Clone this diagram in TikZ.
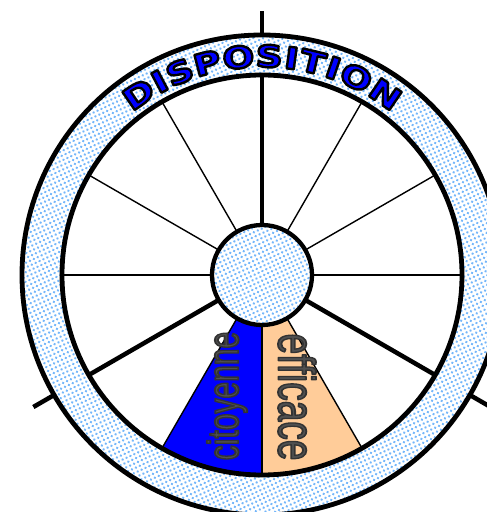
\documentclass[tikz,border=0pt]{standalone}
\usepackage{fontspec}
\setmainfont{Liberation Sans}
\newfontfamily\titlefont[FakeStretch=1.25]{DejaVu Sans Bold}
\newfontfamily\wordfont{Liberation Sans}
\usepackage{graphicx}
\usepackage{xcolor}
\usetikzlibrary{patterns.meta}

\definecolor{wheelblue}{RGB}{0,0,255}
\definecolor{peach}{RGB}{255,204,153}
\definecolor{dotblue}{RGB}{115,182,250}
\definecolor{inkgray}{RGB}{80,80,80}

% glyphs filled in the current colour and stroked round in a given grey
\newcommand{\outlined}[3]{\special{pdf:literal direct #1 G #2 w 1 j 2 Tr}#3\special{pdf:literal direct 0 Tr}}

\begin{document}
\begin{tikzpicture}[x=1pt, y=1pt,
    thinspoke/.style={line width=1.4pt},
    thickspoke/.style={line width=4.5pt},
    rim/.style={line width=4.8pt},
    dotfill/.style={pattern={Dots[radius=1.35pt, distance=4.3pt, angle=25]},
                    pattern color=dotblue},
    letter/.style={inner sep=0pt, text=wheelblue,
                   font=\titlefont\fontsize{30}{30}\selectfont},
    word/.style={inner sep=0pt, text=inkgray}]

    \useasboundingbox (-262,-237) rectangle (225,275);
    \clip (-262,-237) rectangle (225,275);

    % the two coloured sectors
    \fill[wheelblue] (240:50) -- (240:200) arc[start angle=240, end angle=270, radius=200]
      -- (270:50) arc[start angle=270, end angle=240, radius=50] -- cycle;
    \fill[peach] (270:50) -- (270:200) arc[start angle=270, end angle=300, radius=200]
      -- (300:50) arc[start angle=300, end angle=270, radius=50] -- cycle;

    % spokes, and the three that run out as handles
    \foreach \a in {0,30,60,120,150,180,240,300}
      \draw[thinspoke] (0,0) -- (\a:200);
    \draw[line width=2.4pt] (0,0) -- (270:200);
    \foreach \a in {90,210,330}
      \draw[thickspoke] (0,0) -- (\a:264);

    % rim
    \fill[white, even odd rule] (0,0) circle[radius=240] circle[radius=200];
    \path[dotfill, even odd rule] (0,0) circle[radius=240] circle[radius=200];
    \draw[rim] (0,0) circle[radius=240];
    \draw[rim] (0,0) circle[radius=200];

    % hub
    \fill[white] (0,0) circle[radius=50];
    \path[dotfill] (0,0) circle[radius=50];
    \draw[line width=4.3pt] (0,0) circle[radius=50];

    % title round the rim
    \foreach \ch/\ang [count=\i] in {D/124.3, I/117.9, S/112.1, P/104.5, O/96.2,
        S/88.1, I/82.2, T/76.6, I/71.0, O/64.5, N/55.7}
      \node[letter, rotate=\ang-90] (l\i) at (\ang:219) {\outlined{0}{2.4}{\ch}};

    \node[word, rotate=90, font=\wordfont\fontsize{30}{30}\selectfont] (cit)
      at (-35,-121) {\scalebox{1}[1.45]{\outlined{0.2}{1.3}{citoyenne}}};
    \node[word, rotate=-90, font=\wordfont\fontsize{37}{37}\selectfont] (eff)
      at (35,-122) {\scalebox{1}[1.4]{\outlined{0.2}{1.3}{efficace}}};
  \end{tikzpicture}
\end{document}
